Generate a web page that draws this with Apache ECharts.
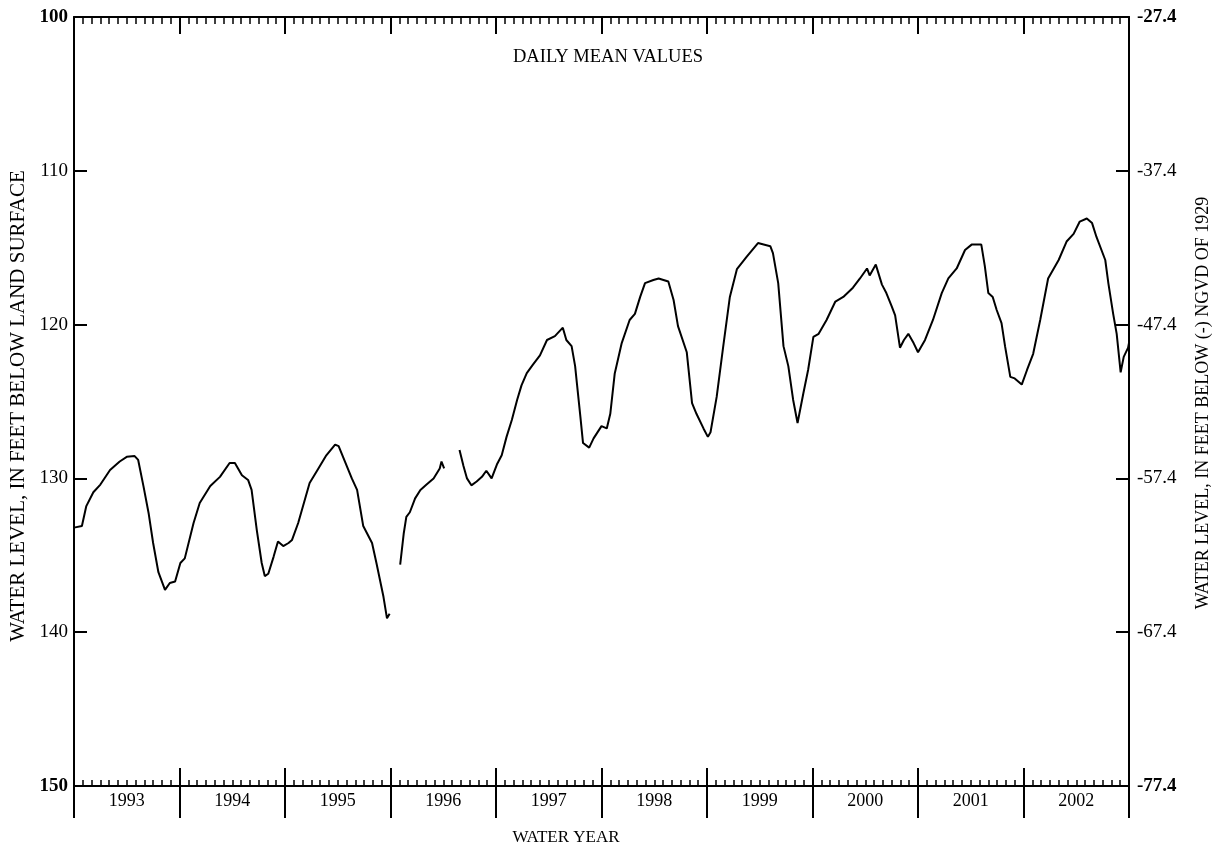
<!DOCTYPE html>
<html>
<head>
<meta charset="utf-8">
<script src="https://cdn.jsdelivr.net/npm/echarts@6/dist/echarts.min.js"></script>
<style>
html,body{margin:0;padding:0;background:#fff;}
#chart{width:1217px;height:849px;}
</style>
</head>
<body>
<div id="chart"></div>
<script>
// x = months since start of water year 1993 (Oct 1, 1992); null level = gap in record
const months = [
  0, 0.9, 1.4, 2.2, 3.0, 4.1, 5.2, 6.0, 6.9, 7.3, 7.9, 8.5, 9.0, 9.6, 10.35, 10.9, 11.5,
  12.1, 12.6, 13.6, 14.3, 15.5, 16.6, 17.7, 18.3, 19.1, 19.8, 20.2, 20.8, 21.35, 21.7, 22.1, 22.7, 23.2, 23.8,
  24.4, 24.8, 25.5, 26.8, 27.8, 28.7, 29.7, 30.1, 30.6, 31.6, 32.2, 32.9, 33.9, 34.4, 35.2, 35.6, 35.9,
  36.5,
  37.1, 37.5, 37.8, 38.2, 38.8, 39.4, 40.1, 40.9, 41.6, 41.8, 42.1,
  43.0,
  43.85, 44.3, 44.7, 45.2, 45.8, 46.4, 46.9, 47.5, 48.1, 48.65, 49.2, 49.8, 50.4, 50.9, 51.5, 52.2, 53.0, 53.8, 54.7, 55.6,
  56.0, 56.6, 57.0, 57.2, 57.6, 57.9, 58.6, 59.1, 60.0, 60.6, 61.0, 61.5, 62.3, 63.2, 63.8, 64.4, 64.95, 65.9, 66.5, 67.6,
  68.2, 68.7, 69.7, 70.3, 70.8, 71.6, 72.1, 72.4, 73.1, 73.85, 74.6, 75.4, 76.5, 77.8, 79.2, 79.5,
  80.1, 80.7, 81.25, 81.8, 82.3, 82.95, 83.5, 84.1, 84.7, 85.6, 86.6, 87.5, 88.6, 89.4, 90.2, 90.5, 91.2, 91.9,
  92.4, 93.0, 93.4, 93.95, 94.4, 94.9, 95.5, 96.0, 96.8, 97.7, 98.7, 99.45, 100.4, 101.35, 102.1, 103.2,
  103.6, 104.0, 104.5, 104.95, 105.5, 105.9, 106.5, 107.0, 107.8, 108.4, 109.1, 109.9, 110.8, 112.0, 112.9, 113.7,
  114.4, 115.2, 115.8, 116.3, 117.3, 117.65, 118.2, 118.6, 119.05, 119.4, 119.9, 120
];
const levels = [
  133.2, 133.1, 131.8, 130.9, 130.4, 129.45, 128.9, 128.6, 128.55, 128.8, 130.5, 132.3, 134.2, 136.1, 137.25, 136.8, 136.7,
  135.5, 135.2, 132.9, 131.6, 130.5, 129.9, 129.0, 129.0, 129.8, 130.1, 130.75, 133.4, 135.5, 136.35, 136.2, 135.1, 134.1, 134.4,
  134.2, 134.0, 132.9, 130.3, 129.35, 128.5, 127.8, 127.9, 128.6, 130.0, 130.75, 133.1, 134.2, 135.5, 137.7, 139.1, 138.8,
  null,
  135.6, 133.6, 132.5, 132.2, 131.3, 130.75, 130.4, 130.0, 129.35, 128.9, 129.35,
  null,
  128.15, 129.2, 130.0, 130.45, 130.2, 129.9, 129.5, 130.0, 129.1, 128.5, 127.3, 126.2, 124.9, 123.95, 123.15, 122.6, 122.0, 121.0, 120.75, 120.2,
  121.0, 121.4, 122.7, 123.8, 126.0, 127.7, 128.0, 127.4, 126.6, 126.75, 125.8, 123.2, 121.2, 119.7, 119.3, 118.2, 117.3, 117.1, 117.0, 117.2,
  118.4, 120.1, 121.8, 125.1, 125.8, 126.75, 127.3, 127.0, 124.7, 121.4, 118.2, 116.4, 115.6, 114.7, 114.9, 115.35,
  117.3, 121.4, 122.7, 124.9, 126.4, 124.5, 122.95, 120.8, 120.6, 119.7, 118.5, 118.2, 117.6, 117.0, 116.35, 116.8, 116.1, 117.4,
  117.95, 118.8, 119.4, 121.5, 121.0, 120.6, 121.2, 121.8, 121.0, 119.7, 117.95, 117.0, 116.35, 115.15, 114.8, 114.8,
  116.2, 117.95, 118.2, 119.05, 119.9, 121.4, 123.4, 123.5, 123.9, 122.95, 121.9, 119.7, 117.0, 115.8, 114.6, 114.1,
  113.3, 113.1, 113.4, 114.3, 115.8, 117.3, 119.3, 120.6, 123.1, 122.1, 121.5, 121.2
];
const yearLabels = ['1993','1994','1995','1996','1997','1998','1999','2000','2001','2002'];
const leftTickLabels = ['100','110','120','130','140','150'];
const rightTickLabels = ['-27.4','-37.4','-47.4','-57.4','-67.4','-77.4'];

const FONT = '"Liberation Serif", "Times New Roman", serif';
const chart = echarts.init(document.getElementById('chart'), null, {renderer: 'canvas'});
const line2 = {show: true, onZero: false, lineStyle: {color: '#000', width: 2}};
const noLine = {show: false, onZero: false};
const data = months.map((m, i) => [m, levels[i]]);

chart.setOption({
  animation: false,
  backgroundColor: '#fff',
  grid: {left: 74, right: 88, top: 17, bottom: 63, containLabel: false, outerBoundsMode: 'none'},
  xAxis: [
    { // bottom axis: inside ticks + minor monthly ticks
      type: 'value', position: 'bottom', min: 0, max: 120, interval: 12,
      axisLine: line2,
      axisTick: {show: true, inside: true, length: 18, lineStyle: {color: '#000', width: 2}},
      minorTick: {show: true, splitNumber: 12, length: 6, lineStyle: {color: '#000', width: 1.5}},
      axisLabel: {show: false}, splitLine: {show: false}, minorSplitLine: {show: false}
    },
    { // bottom axis: outward year ticks
      type: 'value', position: 'bottom', min: 0, max: 120, interval: 12,
      axisLine: noLine,
      axisTick: {show: true, inside: false, length: 32, lineStyle: {color: '#000', width: 2}},
      axisLabel: {show: false}, splitLine: {show: false}
    },
    { // bottom axis: year labels centered in each water year
      type: 'value', position: 'bottom', min: 0, max: 120, interval: 6,
      axisLine: noLine, axisTick: {show: false}, splitLine: {show: false},
      axisLabel: {
        show: true, margin: 6, color: '#000', fontFamily: FONT, fontSize: 18,
        showMinLabel: true, showMaxLabel: true, hideOverlap: false,
        formatter: v => (Math.round(v) % 12 === 6 ? yearLabels[(Math.round(v) - 6) / 12] : '')
      }
    },
    { // top axis
      type: 'value', position: 'top', min: 0, max: 120, interval: 12,
      axisLine: line2,
      axisTick: {show: true, inside: true, length: 17, lineStyle: {color: '#000', width: 2}},
      minorTick: {show: true, splitNumber: 12, length: 7, lineStyle: {color: '#000', width: 1.5}},
      axisLabel: {show: false}, splitLine: {show: false}
    }
  ],
  yAxis: [
    {
      type: 'value', position: 'left', inverse: true, min: 100, max: 150, interval: 10,
      axisLine: line2,
      axisTick: {show: true, inside: true, length: 13, lineStyle: {color: '#000', width: 2}},
      splitLine: {show: false},
      axisLabel: {
        show: true, margin: 6, color: '#000', fontFamily: FONT, fontSize: 19,
        showMinLabel: true, showMaxLabel: true,
        formatter: v => {
          const i = Math.round((v - 100) / 10);
          const s = leftTickLabels[i];
          return (i === 0 || i === 5) ? '{b|' + s + '}' : s;
        },
        rich: {b: {fontFamily: FONT, fontSize: 19, fontWeight: 'bold', color: '#000'}}
      }
    },
    {
      type: 'value', position: 'right', inverse: true, min: 100, max: 150, interval: 10,
      axisLine: line2,
      axisTick: {show: true, inside: true, length: 13, lineStyle: {color: '#000', width: 2}},
      splitLine: {show: false},
      axisLabel: {
        show: true, margin: 8, color: '#000', fontFamily: FONT, fontSize: 19,
        showMinLabel: true, showMaxLabel: true,
        formatter: v => {
          const i = Math.round((v - 100) / 10);
          const s = rightTickLabels[i];
          return (i === 0 || i === 5) ? '{b|' + s + '}' : s;
        },
        rich: {b: {fontFamily: FONT, fontSize: 19, fontWeight: 'bold', color: '#000'}}
      }
    }
  ],
  graphic: [
    {type: 'text', x: 608, y: 57, z: 10,
     style: {text: 'DAILY MEAN VALUES', fill: '#000', font: '18.5px ' + FONT, align: 'center', verticalAlign: 'middle'}},
    {type: 'text', x: 566, y: 838, z: 10,
     style: {text: 'WATER YEAR', fill: '#000', font: '17px ' + FONT, align: 'center', verticalAlign: 'middle'}},
    {type: 'text', x: 18, y: 406, rotation: Math.PI / 2, z: 10,
     style: {text: 'WATER LEVEL, IN FEET BELOW LAND SURFACE', fill: '#000', font: '21px ' + FONT, align: 'center', verticalAlign: 'middle'}},
    {type: 'text', x: 1203, y: 403, rotation: Math.PI / 2, z: 10,
     style: {text: 'WATER LEVEL, IN FEET BELOW (-) NGVD OF 1929', fill: '#000', font: '18px ' + FONT, align: 'center', verticalAlign: 'middle'}}
  ],
  series: [{
    type: 'line', xAxisIndex: 0, yAxisIndex: 0,
    data: data, showSymbol: false, symbol: 'none', connectNulls: false,
    lineStyle: {color: '#000', width: 2}, smooth: false
  }]
});
</script>
</body>
</html>
